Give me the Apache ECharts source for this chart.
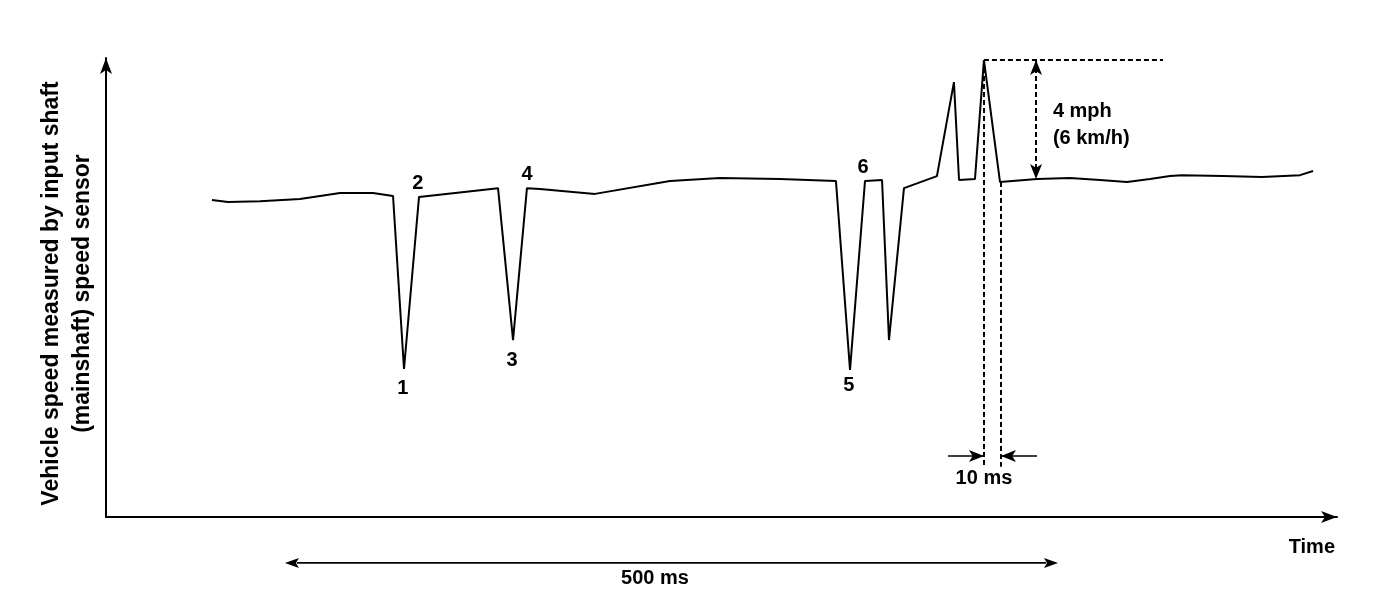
<!DOCTYPE html>
<html>
<head>
<meta charset="utf-8">
<script src="https://cdn.jsdelivr.net/npm/echarts@6/dist/echarts.min.js"></script>
<style>
html,body{margin:0;padding:0;background:#fff;}
#chart{width:1392px;height:610px;}
</style>
</head>
<body>
<div id="chart"></div>
<script>
// ---- data (time in ms, speed in mph) ----
const curveMs = [68.5, 78.9, 99.6, 125.4, 138.4, 151.3, 172.6, 185.6, 192.7, 202.4,
  253.5, 263.2, 272.2, 280.6, 316.2, 364.7, 397.0, 435.8, 472.0, 481.1,
  490.8, 501.8, 506.3, 516.0, 537.3, 548.3, 551.6, 561.9, 567.7, 578.1,
  602.0, 623.3, 642.7, 660.2, 675.1, 688.0, 695.8, 722.3, 747.5, 772.1, 780.5];
const curveMph = [10.50, 10.43, 10.46, 10.53, 10.63, 10.73, 10.73, 10.63, 4.90, 10.60,
  10.89, 5.86, 10.89, 10.86, 10.70, 11.13, 11.23, 11.19, 11.13, 4.87,
  11.13, 11.16, 5.86, 10.89, 11.29, 14.40, 11.16, 11.19, 15.13, 11.09,
  11.19, 11.23, 11.16, 11.09, 11.19, 11.29, 11.32, 11.29, 11.26, 11.32, 11.46];

const pointLabels = ['1', '2', '3', '4', '5', '6'];
const pointLabelMs = [192.0, 201.7, 262.5, 272.2, 480.4, 489.5];
const pointLabelMph = [4.27, 11.03, 5.17, 11.33, 4.37, 11.59];

// peak / 4 mph dimension
const peakMs = 567.7;
const peakMph = 15.13;
const peakLineEndMs = 683.5;
const deltaArrowMs = 601.4;
const baseMph = 11.19;
const deltaText = '4 mph\n(6 km/h)';
const deltaTextMs = 612.3;
const deltaTextMph = 12.97;

// 10 ms dimension
const tenStartMs = 567.7;
const tenEndMs = 578.7;
const tenEndMph = 11.09;
const tenLowMph = 1.66;
const tenArrowMph = 2.02;
const tenLeftOuterMs = 544.5;
const tenRightOuterMs = 602.0;
const tenText = '10 ms';
const tenTextMs = 567.7;
const tenTextMph = 1.29;

// 500 ms span (below the time axis)
const spanStartMs = 115.7;
const spanEndMs = 615.6;
const spanMph = -1.52;
const spanText = '500 ms';
const spanTextMs = 355.0;
const spanTextMph = -2.02;

const xMax = 796;
const yMax = 15.2;
const xName = 'Time';
const yName = 'Vehicle speed measured by input shaft\n(mainshaft) speed sensor';

// ---- chart ----
const FONT = '"Liberation Sans", Arial, sans-serif';
const chart = echarts.init(document.getElementById('chart'), null, {renderer: 'canvas'});

const curve = curveMs.map((x, i) => [x, curveMph[i]]);
const labelPts = pointLabels.map((t, i) => [pointLabelMs[i], pointLabelMph[i], t]);

const dashed = {color: '#000', width: 2, type: [5, 3]};
const solid = {color: '#000', width: 1.5, type: 'solid'};

const textLabel = (align) => ({
  show: true, position: 'inside', formatter: p => p.value[2],
  fontFamily: FONT, fontWeight: 'bold', fontSize: 20, color: '#000', lineHeight: 27,
  align: align, textBorderWidth: 0, textBorderColor: 'transparent', opacity: 1
});

const option = {
  animation: false,
  backgroundColor: '#fff',
  grid: {left: 106, right: 55, top: 58, bottom: 93, containLabel: false, outerBoundsMode: 'none'},
  xAxis: {
    type: 'value', min: 0, max: xMax,
    name: xName, nameLocation: 'end', nameGap: -2,
    nameTextStyle: {fontFamily: FONT, fontWeight: 'bold', fontSize: 20, color: '#000',
      align: 'right', verticalAlign: 'top', padding: [20, 0, 0, 0]},
    axisLine: {show: true, onZero: false, symbol: ['none', 'arrow'], symbolSize: [9, 16],
      lineStyle: {color: '#000', width: 2}},
    axisTick: {show: false}, axisLabel: {show: false}, splitLine: {show: false}
  },
  yAxis: {
    type: 'value', min: 0, max: yMax,
    name: yName, nameLocation: 'middle', nameGap: 8,
    nameTextStyle: {fontFamily: FONT, fontWeight: 'bold', fontSize: 23, color: '#000',
      lineHeight: 31, padding: [0, 12, 0, 0]},
    axisLine: {show: true, onZero: false, symbol: ['none', 'arrow'], symbolSize: [9, 16],
      lineStyle: {color: '#000', width: 2}},
    axisTick: {show: false}, axisLabel: {show: false}, splitLine: {show: false}
  },
  series: [
    {
      type: 'line', data: curve, showSymbol: false, smooth: false, silent: true,
      lineStyle: {color: '#000', width: 2}, z: 3
    },
    {
      type: 'scatter', data: labelPts, symbolSize: 0, silent: true,
      itemStyle: {color: '#000'}, label: textLabel('center')
    },
    {
      type: 'scatter', data: [[deltaTextMs, deltaTextMph, deltaText]], symbolSize: 0, silent: true,
      itemStyle: {color: '#000'}, label: textLabel('left')
    },
    {
      type: 'scatter', data: [[tenTextMs, tenTextMph, tenText]], symbolSize: 0, silent: true,
      itemStyle: {color: '#000'}, label: textLabel('center')
    },
    {
      type: 'line', data: [], silent: true,
      markLine: {
        silent: true, animation: false, symbol: ['none', 'none'],
        label: {show: false}, emphasis: {disabled: true},
        data: [
          [{coord: [peakMs, peakMph], lineStyle: dashed}, {coord: [peakLineEndMs, peakMph]}],
          [{coord: [tenStartMs, peakMph], lineStyle: dashed}, {coord: [tenStartMs, tenLowMph]}],
          [{coord: [tenEndMs, tenEndMph], lineStyle: dashed}, {coord: [tenEndMs, tenLowMph]}],
          [{coord: [deltaArrowMs, peakMph], lineStyle: dashed, symbol: 'arrow', symbolSize: [9, 15]},
           {coord: [deltaArrowMs, baseMph], symbol: 'arrow', symbolSize: [9, 15]}],
          [{coord: [tenLeftOuterMs, tenArrowMph], lineStyle: solid, symbol: 'none'},
           {coord: [tenStartMs, tenArrowMph], symbol: 'arrow', symbolSize: [9, 15]}],
          [{coord: [tenRightOuterMs, tenArrowMph], lineStyle: solid, symbol: 'none'},
           {coord: [tenEndMs, tenArrowMph], symbol: 'arrow', symbolSize: [9, 15]}]
        ]
      }
    }
  ]
};
chart.setOption(option);

// 500 ms span below the time axis, placed through the axis scales
const toPx = (x, y) => chart.convertToPixel({xAxisIndex: 0, yAxisIndex: 0}, [x, y]);
const a = toPx(spanStartMs, spanMph);
const b = toPx(spanEndMs, spanMph);
const t = toPx(spanTextMs, spanTextMph);
const ah = 14, aw = 5;
chart.setOption({
  graphic: [
    {type: 'line', silent: true, shape: {x1: a[0] + ah - 2, y1: a[1], x2: b[0] - ah + 2, y2: b[1]},
      style: {stroke: '#000', lineWidth: 1.8}},
    {type: 'polygon', silent: true, shape: {points: [[a[0], a[1]], [a[0] + ah, a[1] - aw], [a[0] + ah - 3, a[1]], [a[0] + ah, a[1] + aw]]},
      style: {fill: '#000'}},
    {type: 'polygon', silent: true, shape: {points: [[b[0], b[1]], [b[0] - ah, b[1] - aw], [b[0] - ah + 3, b[1]], [b[0] - ah, b[1] + aw]]},
      style: {fill: '#000'}},
    {type: 'text', silent: true, x: t[0], y: t[1],
      style: {text: spanText, fontFamily: FONT, fontWeight: 'bold', fontSize: 20, fill: '#000',
        align: 'center', verticalAlign: 'middle', textAlign: 'center', textVerticalAlign: 'middle'}}
  ]
});
</script>
</body>
</html>
